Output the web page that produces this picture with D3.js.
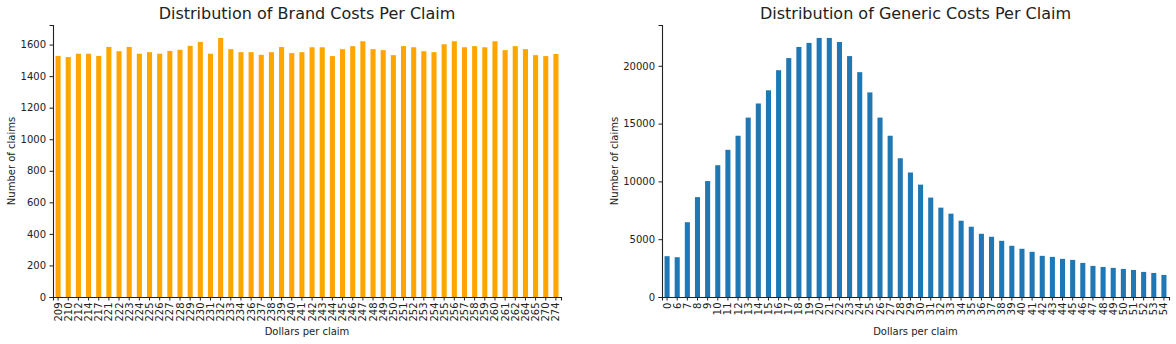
<!DOCTYPE html>
<html>
<head>
<meta charset="utf-8">
<script src="https://d3js.org/d3.v7.min.js"></script>
<style>
  body { margin: 0; background: #fff; }
  text { font-family: 'DejaVu Sans', sans-serif; fill: #222; }
</style>
</head>
<body>
<div id="chart"></div>
<script>
// brand: dollars per claim and counts
var brandDollars = [209, 210, 212, 214, 217, 221, 222, 223, 224, 225, 226, 227, 228, 229, 230,
  231, 232, 233, 234, 236, 237, 238, 239, 240, 241, 242, 243, 244, 245, 246, 247, 248, 249, 250,
  251, 252, 253, 254, 255, 256, 257, 258, 259, 260, 261, 262, 264, 265, 270, 274];
var brandCounts = [1528, 1521, 1542, 1542, 1528, 1585, 1558, 1585, 1542, 1552, 1542, 1560, 1567, 1592, 1617,
  1542, 1642, 1571, 1552, 1552, 1535, 1552, 1585, 1546, 1552, 1583, 1583, 1527, 1571, 1590, 1621, 1571, 1565, 1533,
  1590, 1583, 1558, 1552, 1602, 1621, 1583, 1590, 1583, 1621, 1565, 1590, 1571, 1533, 1527, 1540];

// generic: dollars per claim and counts
var genericDollars = [0, 6, 7, 8, 9, 10, 11, 12, 13, 14, 15, 16, 17, 18, 19, 20, 21, 22, 23, 24,
  25, 26, 27, 28, 29, 30, 31, 32, 33, 34, 35, 36, 37, 38, 39, 40, 41, 42, 43, 44, 45, 46, 47, 48,
  49, 50, 51, 52, 53, 54];
var genericCounts = [3530, 3440, 6470, 8640, 10030, 11400, 12730, 13950, 15520, 16740, 17880, 19620, 20670, 21630, 21980, 22410, 22410, 22060, 20840, 19450,
  17700, 15520, 13950, 12000, 10770, 9720, 8600, 7730, 7210, 6600, 6080, 5470, 5210, 4860, 4430, 4170, 3910, 3560, 3470, 3300, 3210, 2950, 2690, 2600,
  2520, 2430, 2340, 2170, 2080, 1910];

var brandTicks = [0, 200, 400, 600, 800, 1000, 1200, 1400, 1600];
var genericTicks = [0, 5000, 10000, 15000, 20000];

var svg = d3.select("#chart").append("svg")
  .attr("width", 1176).attr("height", 344);

function drawPanel(opts) {
  var x = d3.scaleBand()
    .domain(opts.cats)
    .range([opts.left, opts.right])
    .paddingInner(0.5).paddingOuter(0.25);
  var y = d3.scaleLinear()
    .domain([0, d3.max(opts.vals) * 1.05])
    .range([opts.bottom, opts.top]);

  var g = svg.append("g");

  g.selectAll("rect.bar")
    .data(opts.vals)
    .enter()
    .append("rect")
      .attr("class", "bar")
      .attr("x", function (d, i) { return x(opts.cats[i]); })
      .attr("y", function (d) { return y(d); })
      .attr("width", x.bandwidth())
      .attr("height", function (d) { return opts.bottom - y(d); })
      .attr("fill", opts.color);

  // x axis
  var xa = g.append("g")
    .attr("transform", "translate(0," + opts.bottom + ")")
    .call(d3.axisBottom(x).tickSizeOuter(0).tickSize(3.5).tickPadding(2));
  xa.selectAll("text")
    .attr("transform", "rotate(-90)")
    .attr("x", -5.5)
    .attr("y", 0)
    .attr("dy", "0.35em")
    .style("text-anchor", "end")
    .style("font-size", "10px");

  // y axis
  var ya = g.append("g")
    .attr("transform", "translate(" + opts.left + ",0)")
    .call(d3.axisLeft(y).tickValues(opts.ticks).tickFormat(d3.format("d")).tickSizeOuter(0).tickSize(3.5).tickPadding(3.5));
  ya.selectAll("text").style("font-size", "10px");

  g.selectAll(".domain").attr("stroke", "#222").attr("stroke-width", 1.1);
  g.selectAll(".tick line").attr("stroke", "#222");

  // labels
  g.append("text")
    .attr("x", (opts.left + opts.right) / 2)
    .attr("y", 19)
    .attr("text-anchor", "middle")
    .style("font-size", "16px")
    .text(opts.title);

  g.append("text")
    .attr("x", (opts.left + opts.right) / 2)
    .attr("y", 335)
    .attr("text-anchor", "middle")
    .style("font-size", "10px")
    .text("Dollars per claim");

  g.append("text")
    .attr("transform", "translate(" + opts.ylabX + "," + ((opts.top + opts.bottom) / 2) + ") rotate(-90)")
    .attr("text-anchor", "middle")
    .style("font-size", "10px")
    .text("Number of claims");
}

drawPanel({
  cats: brandDollars, vals: brandCounts, ticks: brandTicks,
  left: 53, right: 561, top: 25, bottom: 297,
  color: "#ffa500", title: "Distribution of Brand Costs Per Claim", ylabX: 15
});

drawPanel({
  cats: genericDollars, vals: genericCounts, ticks: genericTicks,
  left: 662, right: 1169, top: 25, bottom: 297,
  color: "#1f77b4", title: "Distribution of Generic Costs Per Claim", ylabX: 618
});
</script>
</body>
</html>
